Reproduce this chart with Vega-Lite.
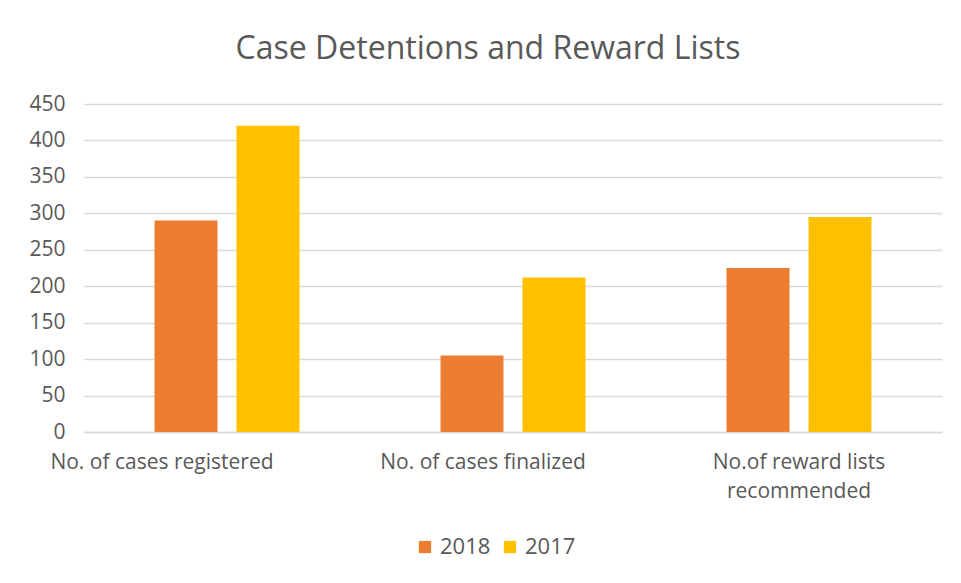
{
  "$schema": "https://vega.github.io/schema/vega-lite/v6.json",
  "width": 858,
  "height": 328,
  "autosize": {"type": "none"},
  "padding": {"left": 84, "top": 104, "right": 19, "bottom": 151},
  "background": "#ffffff",
  "title": {
    "text": "Case Detentions and Reward Lists",
    "font": "Open Sans",
    "fontSize": 32,
    "fontWeight": "normal",
    "color": "#595959",
    "anchor": "middle",
    "dx": -25,
    "offset": 27
  },
  "data": {
    "values": [
      {"category": "No. of cases registered", "year": "2018", "value": 290},
      {"category": "No. of cases registered", "year": "2017", "value": 420},
      {"category": "No. of cases finalized", "year": "2018", "value": 105},
      {"category": "No. of cases finalized", "year": "2017", "value": 212},
      {"category": "No.of reward lists recommended", "year": "2018", "value": 225},
      {"category": "No.of reward lists recommended", "year": "2017", "value": 295}
    ]
  },
  "mark": {"type": "bar"},
  "encoding": {
    "x": {
      "field": "category",
      "type": "nominal",
      "sort": null,
      "scale": {"paddingInner": 0, "paddingOuter": 0},
      "axis": {
        "title": null,
        "labelAngle": 0,
        "labelFont": "Open Sans",
        "labelFontSize": 21,
        "labelColor": "#595959",
        "labelPadding": 19,
        "labelLimit": 0,
        "labelOverlap": false,
        "labelOffset": {
          "condition": [
            {"test": "datum.value == 'No. of cases registered'", "value": -65},
            {"test": "datum.value == 'No. of cases finalized'", "value": -30}
          ],
          "value": 0
        },
        "ticks": false,
        "domainColor": "#d9d9d9",
        "domainWidth": 1.5,
        "labelExpr": "datum.value == 'No.of reward lists recommended' ? ['No.of reward lists', 'recommended'] : datum.value",
        "labelLineHeight": 29
      }
    },
    "xOffset": {
      "field": "year",
      "type": "nominal",
      "sort": ["2018", "2017"],
      "scale": {"paddingInner": 0.232, "paddingOuter": 0.86}
    },
    "y": {
      "field": "value",
      "type": "quantitative",
      "scale": {"domain": [0, 450]},
      "axis": {
        "title": null,
        "values": [0, 50, 100, 150, 200, 250, 300, 350, 400, 450],
        "labelFont": "Open Sans",
        "labelFontSize": 21,
        "labelColor": "#595959",
        "labelPadding": 19,
        "ticks": false,
        "domain": false,
        "gridColor": "#d9d9d9",
        "gridWidth": 1.5
      }
    },
    "color": {
      "field": "year",
      "type": "nominal",
      "sort": ["2018", "2017"],
      "scale": {"domain": ["2018", "2017"], "range": ["#ed7d31", "#ffc000"]},
      "legend": {
        "title": null,
        "orient": "none",
        "legendX": 330,
        "legendY": 432,
        "direction": "horizontal",
        "symbolType": "square",
        "symbolSize": 150,
        "symbolStrokeWidth": 0,
        "symbolOpacity": 1,
        "labelFont": "Open Sans",
        "labelFontSize": 22,
        "labelColor": "#595959",
        "labelOffset": 4,
        "columnPadding": 8
      }
    }
  },
  "config": {
    "view": {"stroke": null}
  }
}
